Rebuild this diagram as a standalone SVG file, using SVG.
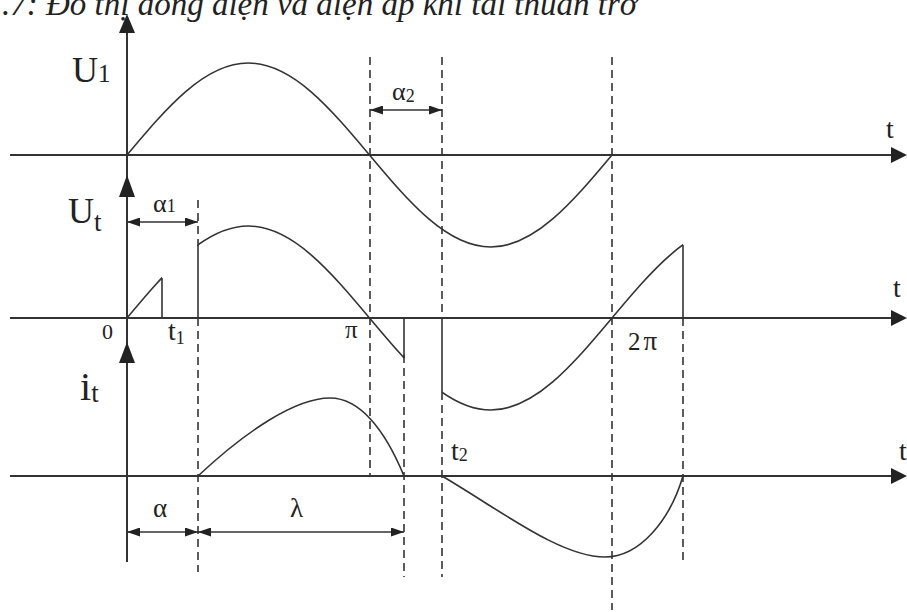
<svg xmlns="http://www.w3.org/2000/svg" width="907" height="612" viewBox="0 0 907 612">
<style>
.ax{stroke:#333;stroke-width:2;fill:none}
.cv{stroke:#333;stroke-width:1.6;fill:none}
.ds{stroke:#333;stroke-width:1.6;fill:none;stroke-dasharray:8 5}
.dim{stroke:#333;stroke-width:1.4;fill:none;marker-start:url(#da);marker-end:url(#da)}
.lb{font-family:"Liberation Serif","Times New Roman",serif;fill:#222}
.ah{fill:#222}
</style>
<defs>
<marker id="da" viewBox="0 0 13 9" refX="13" refY="4.5" markerWidth="13" markerHeight="9" markerUnits="userSpaceOnUse" orient="auto-start-reverse">
<path d="M0,0 L13,4.5 L0,9 Z" fill="#222"/>
</marker>
<path id="utwave" d="M127,318 C166.54,270.87 204.37,226 248.25,226 C292.13,226 329.96,270.87 369.5,318 C409.04,365.13 446.87,410 490.75,410 C534.63,410 572.46,365.13 612,318 C651.54,270.87 689.37,226 733.25,226"/>
<clipPath id="c1"><rect x="127" y="150" width="35" height="300"/></clipPath>
<clipPath id="c2"><rect x="198" y="150" width="206" height="300"/></clipPath>
<clipPath id="c3"><rect x="442" y="150" width="241" height="300"/></clipPath>
</defs>
<text class="lb" x="2" y="15" font-size="33" font-style="italic">.7: Đồ thị dòng điện và điện áp khi tải thuần trở</text>
<g id="axes">
<line class="ax" x1="127" y1="30" x2="127" y2="562"/>
<line class="ax" x1="10" y1="155" x2="895" y2="155"/>
<line class="ax" x1="10" y1="318" x2="895" y2="318"/>
<line class="ax" x1="10" y1="476" x2="895" y2="476"/>
<path class="ah" d="M127,14 L135,33 L119,33 Z"/>
<path class="ah" d="M127,175 L135,197 L119,197 Z"/>
<path class="ah" d="M127,342 L135,363 L119,363 Z"/>
<path class="ah" d="M907,155 L891,147 L891,163 Z"/>
<path class="ah" d="M907,318 L891,310 L891,326 Z"/>
<path class="ah" d="M907,476 L891,468 L891,484 Z"/>
</g>
<g id="guides">
<line class="ds" x1="198" y1="200" x2="198" y2="246"/>
<line class="ds" x1="198" y1="318" x2="198" y2="572"/>
<line class="ds" x1="370" y1="57" x2="370" y2="476"/>
<line class="ds" x1="404" y1="355" x2="404" y2="577"/>
<line class="ds" x1="442" y1="57" x2="442" y2="318"/>
<line class="ds" x1="442" y1="392" x2="442" y2="577"/>
<line class="ds" x1="612" y1="57" x2="612" y2="610"/>
<line class="ds" x1="683" y1="318" x2="683" y2="563"/>
</g>
<g id="u1-wave">
<path class="cv" d="M127,155 C166.54,107.87 204.37,63 248.25,63 C292.13,63 329.96,107.87 369.5,155 C409.04,202.13 446.87,247 490.75,247 C534.63,247 572.46,202.13 612,155"/>
</g>
<g id="ut-wave">
<use href="#utwave" class="cv" clip-path="url(#c1)"/>
<use href="#utwave" class="cv" clip-path="url(#c2)"/>
<use href="#utwave" class="cv" clip-path="url(#c3)"/>
<line class="cv" x1="162" y1="278" x2="162" y2="318"/>
<line class="cv" x1="198" y1="245" x2="198" y2="318"/>
<line class="cv" x1="404" y1="318" x2="404" y2="358"/>
<line class="cv" x1="442" y1="318" x2="442" y2="392"/>
<line class="cv" x1="683" y1="245" x2="683" y2="318"/>
</g>
<g id="it-wave">
<path class="cv" d="M198,476 C245,432 295,398 330,398 C360,398 385,430 404,476"/>
<path class="cv" d="M442,476 C500,510 560,557 605,557 C640,557 670,520 683,476"/>
</g>
<g id="dimensions">
<line class="dim" x1="127" y1="222" x2="198" y2="222"/>
<line class="dim" x1="370" y1="110" x2="442" y2="110"/>
<line class="dim" x1="127" y1="532" x2="198" y2="532"/>
<line class="dim" x1="198" y1="532" x2="404" y2="532"/>
</g>
<g id="labels">
<text class="lb" x="72" y="82" font-size="36">U<tspan font-size="25">1</tspan></text>
<text class="lb" x="68" y="223" font-size="36">U<tspan font-size="27" dy="8">t</tspan></text>
<text class="lb" x="80" y="400" font-size="40">i<tspan font-size="27" dy="2">t</tspan></text>
<text class="lb" x="886" y="138" font-size="28">t</text>
<text class="lb" x="893" y="297" font-size="28">t</text>
<text class="lb" x="899" y="460" font-size="28">t</text>
<text class="lb" x="153" y="212" font-size="26">α<tspan font-size="18">1</tspan></text>
<text class="lb" x="392" y="100" font-size="26">α<tspan font-size="18" dy="2">2</tspan></text>
<text class="lb" x="102" y="339" font-size="22">0</text>
<text class="lb" x="168" y="340" font-size="28">t<tspan font-size="18" dy="4">1</tspan></text>
<text class="lb" x="345" y="338" font-size="25">π</text>
<text class="lb" x="628" y="350" font-size="25">2<tspan dx="3" font-size="27">π</tspan></text>
<text class="lb" x="451" y="460" font-size="28">t<tspan font-size="18" dy="1">2</tspan></text>
<text class="lb" x="153" y="517" font-size="27">α</text>
<text class="lb" x="290" y="517" font-size="27">λ</text>
</g>
</svg>
